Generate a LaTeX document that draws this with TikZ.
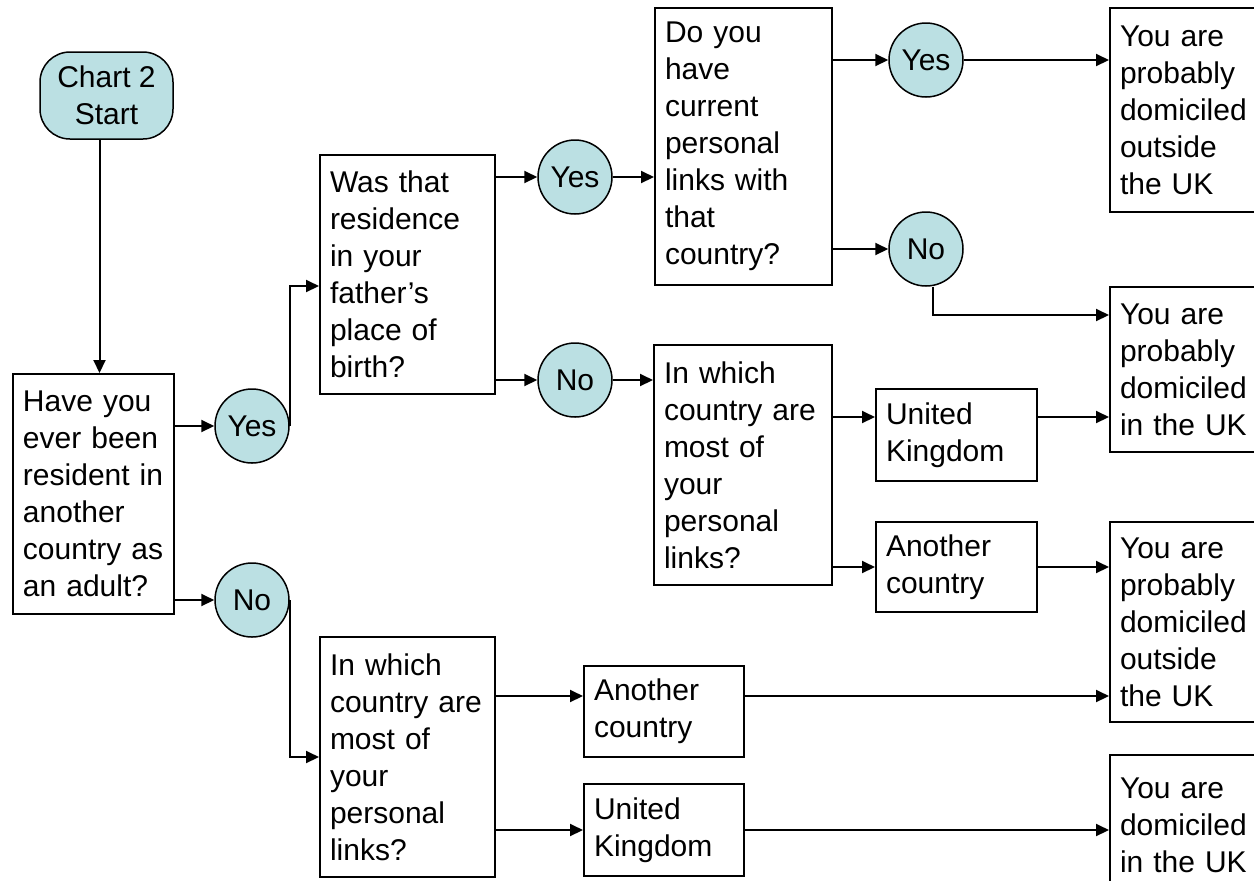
\documentclass[tikz,border=0pt]{standalone}
\usepackage{fontspec}
\setmainfont{Liberation Sans}
\usetikzlibrary{arrows.meta}
\definecolor{chartcyan}{RGB}{187,224,227}
\newcommand{\chartfont}{\fontsize{15pt}{18.5pt}\selectfont}
\tikzset{
	qbox/.style 2 args={draw,line width=1pt,anchor=north west,align=left,text width=#1,minimum height=#2,inner xsep=5pt,inner ysep=0pt,font=\chartfont},
	answer/.style={draw,circle,fill=chartcyan,line width=0.75pt,minimum size=37pt,inner sep=0pt,font=\chartfont},
	arr/.style={line width=1pt,-{Triangle[length=6.5pt,width=6pt]}}
}

\begin{document}
\begin{tikzpicture}[x=0.5pt,y=-0.5pt]
	\clip (0,0) rectangle (1254,880);
	\node[draw,fill=chartcyan,line width=0.75pt,rounded corners=15pt,minimum width=66.5pt,minimum height=43.5pt,inner sep=0pt,align=center,font=\chartfont] (start) at (106.5,95.5) {Chart 2\\Start};

	\node[qbox={70.5pt}{120pt}] (resident) at (12,373) {Have you\\ever been\\resident in\\another\\country as\\an adult?};
	\node[answer] (yesA) at (252,426) {Yes};
	\node[answer] (noA) at (252,600) {No};

	\node[qbox={77.5pt}{119.5pt}] (father) at (319,154) {Was that\\residence\\in your\\father's\\place of\\birth?};
	\node[answer] (yesB) at (575,177) {Yes};
	\node[answer] (noB) at (575,380) {No};

	\node[qbox={78.5pt}{138.5pt}] (links) at (654,7) {Do you\\have\\current\\personal\\links with\\that\\country?};
	\node[answer] (yesC) at (926,60) {Yes};
	\node[answer] (noC) at (926,249) {No};

	\node[qbox={79pt}{120pt}] (whichA) at (653,344) {In which\\country are\\most of\\your\\personal\\links?};
	\node[qbox={70.5pt}{46pt}] (ukA) at (875,388) {United\\Kingdom};
	\node[qbox={70.5pt}{45pt}] (otherA) at (875,521) {Another\\country};

	\node[qbox={77.5pt}{120pt}] (whichB) at (319,636) {In which\\country are\\most of\\your\\personal\\links?};
	\node[qbox={70pt}{45.5pt}] (otherB) at (583,665) {Another\\country};
	\node[qbox={70pt}{46pt}] (ukB) at (583,783) {United\\Kingdom};

	\node[qbox={70.5pt}{102pt}] (outA) at (1109,7) {You are\\probably\\domiciled\\outside\\the UK};
	\node[qbox={70.5pt}{82.5pt}] (inA) at (1109,286) {You are\\probably\\domiciled\\in the UK};
	\node[qbox={70.5pt}{100pt}] (outB) at (1109,521) {You are\\probably\\domiciled\\outside\\the UK};
	\node[qbox={70.5pt}{70pt}] (inB) at (1109,754) {You are\\domiciled\\in the UK};

	\draw[arr] ([xshift=-3.5pt]start.south) -- ([xshift=-3.5pt]start.south |- resident.north);
	\draw[arr] (resident.east |- yesA.west) -- (yesA.west);
	\draw[arr] (resident.east |- noA.west) -- (noA.west);
	\draw[arr] (yesA.east) |- (father.west |- 0,286);
	\draw[arr] (noA.east) |- (whichB.west);

	\draw[arr] (father.east |- yesB.west) -- (yesB.west);
	\draw[arr] (father.east |- noB.west) -- (noB.west);
	\draw[arr] (yesB.east) -- (yesB.east -| links.west);
	\draw[arr] (noB.east) -- (noB.east -| whichA.west);

	\draw[arr] (links.east |- yesC.west) -- (yesC.west);
	\draw[arr] (links.east |- noC.west) -- (noC.west);
	\draw[arr] (yesC.east) -- (yesC.east -| outA.west);
	\draw[arr] ([xshift=3.5pt]noC.south) |- (inA.west |- 0,315);

	\draw[arr] (whichA.east |- 0,417) -- (ukA.west |- 0,417);
	\draw[arr] (ukA.east |- 0,417) -- (inA.west |- 0,417);
	\draw[arr] (whichA.east |- otherA.west) -- (otherA.west);
	\draw[arr] (otherA.east) -- (otherA.east -| outB.west);

	\draw[arr] (whichB.east |- 0,696) -- (otherB.west |- 0,696);
	\draw[arr] (otherB.east |- 0,696) -- (outB.west |- 0,696);
	\draw[arr] (whichB.east |- ukB.west) -- (ukB.west);
	\draw[arr] (ukB.east) -- (ukB.east -| inB.west);
\end{tikzpicture}
\end{document}
